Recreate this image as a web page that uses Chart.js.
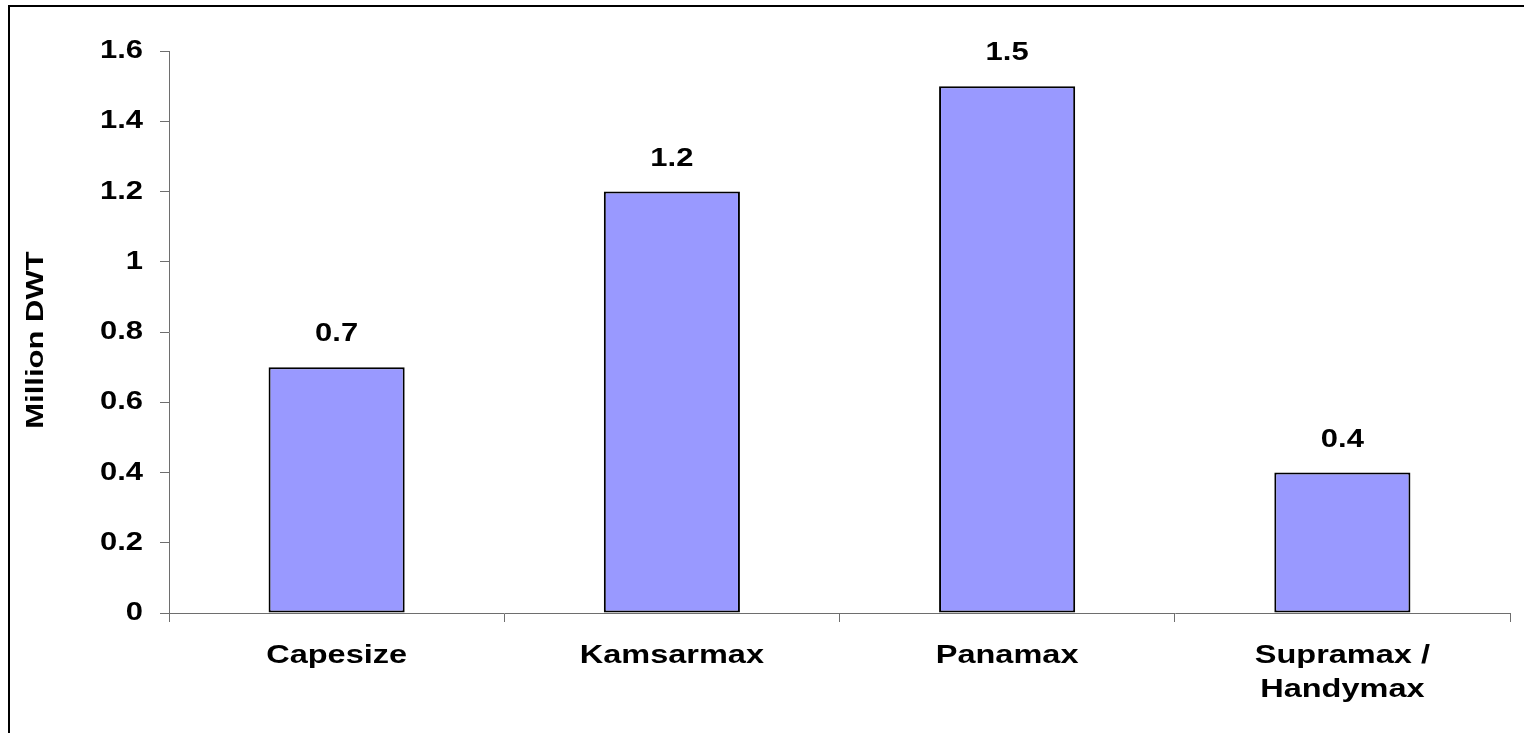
<!DOCTYPE html>
<html>
<head>
<meta charset="utf-8">
<title>Million DWT by vessel class</title>
<script src="https://cdn.jsdelivr.net/npm/chart.js@4/dist/chart.umd.min.js"></script>
<style>
  html, body { margin: 0; padding: 0; background: #ffffff; }
  #wrap { width: 1524px; height: 733px; }
</style>
</head>
<body>
<div id="wrap"><canvas id="chart" width="1524" height="733"></canvas></div>
<script>
// Vessel classes and their tonnage (million DWT)
const categories = ['Capesize', 'Kamsarmax', 'Panamax', ['Supramax /', 'Handymax']];
const values = [0.7, 1.2, 1.5, 0.4];
const yTickLabels = ['0', '0.2', '0.4', '0.6', '0.8', '1', '1.2', '1.4', '1.6'];
const yTitle = 'Million DWT';

const FONT = "'Liberation Sans', Arial, sans-serif";
const AXIS_GREY = '#6e6e6e';

// Glyphs are drawn wider along their baseline; the factor is read from ctx.textStretch.
(function patchTextStretch() {
  const proto = CanvasRenderingContext2D.prototype;
  const nativeFill = proto.fillText;
  proto.fillText = function (text, x, y, maxWidth) {
    const s = this.textStretch || 1;
    if (s === 1) {
      return maxWidth === undefined ? nativeFill.call(this, text, x, y) : nativeFill.call(this, text, x, y, maxWidth);
    }
    this.save();
    this.translate(x, y);
    this.scale(s, 1);
    if (maxWidth === undefined) nativeFill.call(this, text, 0, 0);
    else nativeFill.call(this, text, 0, 0, maxWidth / s);
    this.restore();
  };
})();

function withStretch(ctx, s, fn) {
  const prev = ctx.textStretch;
  ctx.textStretch = s;
  try { fn(); } finally { ctx.textStretch = prev; }
}

// Per-scale text widening for tick labels and the axis title
const stretchPlugin = {
  id: 'scaleTextStretch',
  beforeDraw(chart) {
    const ctx = chart.ctx;
    const cfg = { x: { labels: 1.3 }, y: { labels: 1.19, title: 1.35, titleShift: 8 } };
    Object.keys(cfg).forEach(id => {
      const scale = chart.scales[id];
      if (!scale || scale._stretchWrapped) return;
      const c = cfg[id];
      const drawLabels = scale.drawLabels.bind(scale);
      scale.drawLabels = function (area) { withStretch(ctx, c.labels, () => drawLabels(area)); };
      if (c.title) {
        const drawTitle = scale.drawTitle.bind(scale);
        scale.drawTitle = function () {
          ctx.save();
          ctx.translate(0, c.titleShift || 0);
          withStretch(ctx, c.title, () => drawTitle());
          ctx.restore();
        };
      }
      scale._stretchWrapped = true;
    });
  }
};

// Value labels above each bar
const valueLabelPlugin = {
  id: 'valueLabels',
  afterDatasetsDraw(chart) {
    const ctx = chart.ctx;
    const meta = chart.getDatasetMeta(0);
    ctx.save();
    ctx.font = 'bold 26px ' + FONT;
    ctx.fillStyle = '#000000';
    ctx.textAlign = 'center';
    ctx.textBaseline = 'middle';
    withStretch(ctx, 1.19, () => {
      meta.data.forEach((bar, i) => {
        ctx.fillText(String(values[i]), bar.x, bar.y - 33);
      });
    });
    ctx.restore();
  }
};

// Frame along the top and left edges of the picture
const framePlugin = {
  id: 'frame',
  afterDraw(chart) {
    const ctx = chart.ctx;
    ctx.save();
    ctx.strokeStyle = '#000000';
    ctx.lineWidth = 2;
    ctx.beginPath();
    ctx.moveTo(9, chart.height + 2);
    ctx.lineTo(9, 6);
    ctx.lineTo(chart.width + 2, 6);
    ctx.stroke();
    ctx.restore();
  }
};

new Chart(document.getElementById('chart'), {
  type: 'bar',
  data: {
    labels: categories,
    datasets: [{
      data: values,
      backgroundColor: '#9999ff',
      borderColor: '#000000',
      borderWidth: 2,
      borderSkipped: false,
      barPercentage: 0.406,
      categoryPercentage: 1.0
    }]
  },
  options: {
    responsive: false,
    devicePixelRatio: 1,
    animation: false,
    layout: { padding: { top: 51, left: 0, right: 14, bottom: 0 } },
    plugins: {
      legend: { display: false },
      tooltip: { enabled: false },
      title: { display: false }
    },
    scales: {
      x: {
        offset: true,
        grid: {
          offset: true,
          drawOnChartArea: false,
          drawTicks: true,
          tickLength: 9,
          color: AXIS_GREY,
          lineWidth: 1
        },
        border: { display: true, color: AXIS_GREY, width: 1 },
        ticks: {
          color: '#000000',
          font: { family: FONT, size: 25, weight: 'bold', lineHeight: 1.36 },
          padding: 17,
          maxRotation: 0,
          autoSkip: false
        },
        afterFit(scale) { scale.height = 120; }
      },
      y: {
        min: 0,
        max: 1.6,
        grid: {
          drawOnChartArea: false,
          drawTicks: true,
          tickLength: 9,
          color: AXIS_GREY,
          lineWidth: 1
        },
        border: { display: true, color: AXIS_GREY, width: 1 },
        ticks: {
          stepSize: 0.2,
          color: '#000000',
          font: { family: FONT, size: 26, weight: 'bold' },
          padding: 17,
          callback: (v, i) => yTickLabels[i]
        },
        title: {
          display: true,
          text: yTitle,
          color: '#000000',
          font: { family: FONT, size: 23, weight: 'bold', lineHeight: 1.2 },
          padding: { top: 23, bottom: 0 }
        },
        afterFit(scale) { scale.width = 169; }
      }
    }
  },
  plugins: [stretchPlugin, valueLabelPlugin, framePlugin]
});
</script>
</body>
</html>
